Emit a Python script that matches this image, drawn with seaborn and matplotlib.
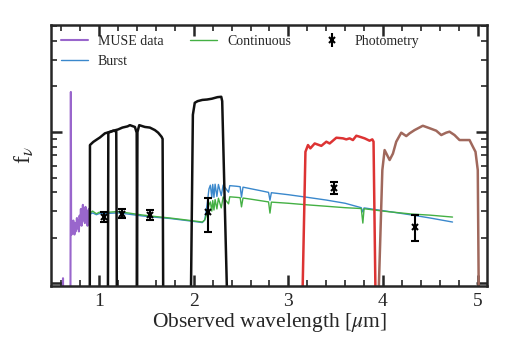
import numpy as np
import matplotlib
matplotlib.use("Agg")
import matplotlib.pyplot as plt
import seaborn as sns
from matplotlib.ticker import MultipleLocator, NullFormatter, LogLocator
from matplotlib.lines import Line2D

# MUSE spectrum (micron, f_nu arbitrary)
muse_wl = [0.48, 0.60, 0.612, 0.617, 0.622, 0.64, 0.695, 0.700, 0.703,
           0.708, 0.714, 0.720, 0.726, 0.732, 0.738, 0.744, 0.750, 0.757,
           0.764, 0.771, 0.778, 0.785, 0.792, 0.799, 0.806, 0.813, 0.820,
           0.827, 0.834, 0.841, 0.848, 0.855, 0.862, 0.869, 0.876, 0.883,
           0.890, 0.897, 0.903]
muse_f = [0.05, 0.05, 0.05, 0.108, 0.05, 0.05, 0.05, 1.84, 0.24,
          0.21, 0.25, 0.22, 0.26, 0.23, 0.21, 0.25, 0.22, 0.24,
          0.27, 0.23, 0.26, 0.22, 0.28, 0.25, 0.31, 0.24, 0.27,
          0.33, 0.26, 0.30, 0.25, 0.32, 0.27, 0.30, 0.24, 0.29,
          0.31, 0.26, 0.30]

# model spectra
cont_wl = [0.90, 0.93, 0.97, 1.00, 1.10, 1.20, 1.30, 1.45, 1.60, 1.75, 1.90,
           2.05, 2.09, 2.115, 2.14, 2.16, 2.175, 2.19, 2.20, 2.213, 2.225,
           2.244, 2.26, 2.29, 2.31, 2.367, 2.38, 2.45, 2.49, 2.504, 2.52,
           2.60, 2.70, 2.79, 2.805, 2.82, 3.00, 3.20, 3.40, 3.60, 3.77,
           3.787, 3.80, 4.00, 4.30, 4.50, 4.735]
cont_f = [0.290, 0.300, 0.288, 0.295, 0.295, 0.298, 0.292, 0.283, 0.276, 0.270, 0.263,
          0.256, 0.254, 0.262, 0.290, 0.330, 0.345, 0.300, 0.352, 0.305, 0.358,
          0.310, 0.365, 0.315, 0.372, 0.335, 0.373, 0.370, 0.368, 0.320, 0.366,
          0.360, 0.352, 0.345, 0.291, 0.344, 0.338, 0.330, 0.323, 0.316, 0.312,
          0.250, 0.311, 0.300, 0.287, 0.282, 0.274]

burst_wl = [0.90, 0.93, 0.97, 1.00, 1.10, 1.20, 1.30, 1.45, 1.60, 1.75, 1.90,
            2.05, 2.09, 2.115, 2.14, 2.16, 2.175, 2.19, 2.20, 2.213, 2.225,
            2.244, 2.26, 2.29, 2.31, 2.367, 2.38, 2.45, 2.49, 2.504, 2.52,
            2.60, 2.70, 2.79, 2.805, 2.82, 3.00, 3.20, 3.40, 3.60, 3.77,
            3.787, 3.80, 4.00, 4.30, 4.50, 4.735]
burst_f = [0.285, 0.292, 0.284, 0.289, 0.290, 0.292, 0.287, 0.279, 0.273, 0.268, 0.261,
           0.254, 0.252, 0.262, 0.330, 0.420, 0.445, 0.370, 0.450, 0.370, 0.452,
           0.375, 0.450, 0.380, 0.446, 0.400, 0.442, 0.438, 0.435, 0.371, 0.432,
           0.422, 0.410, 0.399, 0.354, 0.397, 0.385, 0.370, 0.355, 0.338, 0.316,
           0.296, 0.315, 0.302, 0.283, 0.270, 0.254]

# filter curves (scaled transmission)
f105_wl = [0.895, 0.900, 0.902, 0.937, 0.972, 1.007, 1.060, 1.106, 1.148, 1.180, 1.186, 1.190]
f105_t = [0.001, 0.09, 0.82, 0.86, 0.89, 0.92, 0.98, 1.00, 1.02, 1.01, 0.09, 0.001]
f125_wl = [1.088, 1.092, 1.096, 1.15, 1.20, 1.245, 1.30, 1.324, 1.377, 1.396, 1.400, 1.404]
f125_t = [0.001, 0.09, 0.99, 1.02, 1.04, 1.07, 1.09, 1.11, 1.08, 0.99, 0.09, 0.001]
f160_wl = [1.394, 1.398, 1.404, 1.423, 1.483, 1.535, 1.588, 1.623, 1.659, 1.670, 1.676, 1.680]
f160_t = [0.001, 0.09, 1.00, 1.11, 1.08, 1.07, 1.03, 0.99, 0.93, 0.90, 0.09, 0.001]
ks_wl = [1.96, 1.970, 1.990, 2.010, 2.040, 2.090, 2.140, 2.190, 2.250, 2.290, 2.300, 2.350, 2.36]
ks_t = [0.001, 0.09, 1.30, 1.56, 1.60, 1.63, 1.64, 1.66, 1.70, 1.71, 1.60, 0.09, 0.001]
irac1_wl = [3.14, 3.150, 3.180, 3.207, 3.232, 3.278, 3.348, 3.401, 3.436, 3.507, 3.577,
            3.612, 3.647, 3.682, 3.718, 3.753, 3.806, 3.858, 3.887, 3.900, 3.920, 3.93]
irac1_t = [0.001, 0.09, 0.74, 0.82, 0.78, 0.84, 0.81, 0.863, 0.84, 0.917, 0.908,
           0.894, 0.908, 0.885, 0.945, 0.931, 0.908, 0.876, 0.894, 0.863, 0.09, 0.001]
irac2_wl = [3.945, 3.955, 3.993, 4.017, 4.070, 4.105, 4.140, 4.193, 4.246, 4.281, 4.334,
            4.421, 4.492, 4.563, 4.616, 4.668, 4.703, 4.756, 4.809, 4.915, 4.950,
            4.978, 5.002, 5.012, 5.02]
irac2_t = [0.001, 0.09, 0.56, 0.76, 0.653, 0.72, 0.863, 0.99, 0.94, 0.98, 1.03,
           1.10, 1.06, 1.02, 0.955, 0.99, 1.005, 0.955, 0.885, 0.885, 0.80,
           0.74, 0.56, 0.09, 0.001]

# photometry
phot_wl = [1.053, 1.236, 1.535, 2.151, 3.478, 4.341]
phot_f = [0.275, 0.289, 0.282, 0.294, 0.424, 0.234]
phot_lo = [0.255, 0.270, 0.262, 0.219, 0.389, 0.190]
phot_hi = [0.296, 0.308, 0.305, 0.364, 0.469, 0.282]

sns.set_style("ticks")
plt.rcParams['font.family'] = ['Liberation Serif', 'DejaVu Serif']
plt.rcParams['mathtext.fontset'] = 'stix'

fig = plt.figure(figsize=(5.13, 3.57), dpi=100)
ax = fig.add_axes([0.0994, 0.199, 0.850, 0.731])

c_muse = '#9966cc'
c_cont = '#44b044'
c_burst = '#3a88cc'

sns.lineplot(x=muse_wl, y=muse_f, color=c_muse, lw=1.5, estimator=None, sort=False, ax=ax)
sns.lineplot(x=burst_wl, y=burst_f, color=c_burst, lw=1.0, estimator=None, sort=False, ax=ax)
sns.lineplot(x=cont_wl, y=cont_f, color=c_cont, lw=1.0, estimator=None, sort=False, ax=ax)

for wl, t in [(f105_wl, f105_t), (f125_wl, f125_t), (f160_wl, f160_t), (ks_wl, ks_t)]:
    sns.lineplot(x=wl, y=t, color='#111111', lw=1.8, estimator=None, sort=False, ax=ax)
sns.lineplot(x=irac1_wl, y=irac1_t, color='#dd3333', lw=1.8, estimator=None, sort=False, ax=ax)
sns.lineplot(x=irac2_wl, y=irac2_t, color='#a0685c', lw=1.8, estimator=None, sort=False, ax=ax)

ferr = [np.array(phot_f) - np.array(phot_lo), np.array(phot_hi) - np.array(phot_f)]
ax.errorbar(phot_wl, phot_f, yerr=ferr, fmt='x', color='k', ms=5, mew=1.5,
            elinewidth=1.5, capsize=3, capthick=1.5, zorder=5)

ax.set_yscale('log')
ax.set_xlim(0.49, 5.1)
ax.set_ylim(0.096, 5.1)
ax.xaxis.set_major_locator(MultipleLocator(1))
ax.xaxis.set_minor_locator(MultipleLocator(0.2))
ax.yaxis.set_major_locator(LogLocator(base=10))
ax.yaxis.set_minor_locator(LogLocator(base=10, subs=np.arange(2, 10)))
ax.yaxis.set_major_formatter(NullFormatter())
ax.yaxis.set_minor_formatter(NullFormatter())
ax.tick_params(which='both', direction='in', top=True, right=True, labelsize=14)
ax.tick_params(which='major', length=8, width=1.8, pad=5)
ax.tick_params(which='minor', length=4.5, width=1.2)
for s in ax.spines.values():
    s.set_linewidth(1.8)

ax.set_xlabel(r'Observed wavelength [$\mu$m]', fontsize=15.5, labelpad=1)
ax.set_ylabel(r'f$_\nu$', fontsize=17, labelpad=6)

handles = [Line2D([], [], color=c_muse, lw=1.5),
           Line2D([], [], color=c_burst, lw=1.0),
           Line2D([], [], color=c_cont, lw=1.0)]
eb = ax.errorbar([], [], yerr=[], fmt='x', color='k', ms=5, mew=1.5,
                 elinewidth=1.5, capsize=3, capthick=1.5)
handles.append(eb)
ax.legend(handles, ['MUSE data', 'Burst', 'Continuous', 'Photometry'],
          loc='upper left', ncol=3, frameon=False, fontsize=10,
          handlelength=1.95, handletextpad=0.7, columnspacing=1.95,
          borderaxespad=0.3, labelspacing=0.5)

fig.savefig('out.png', dpi=100)
